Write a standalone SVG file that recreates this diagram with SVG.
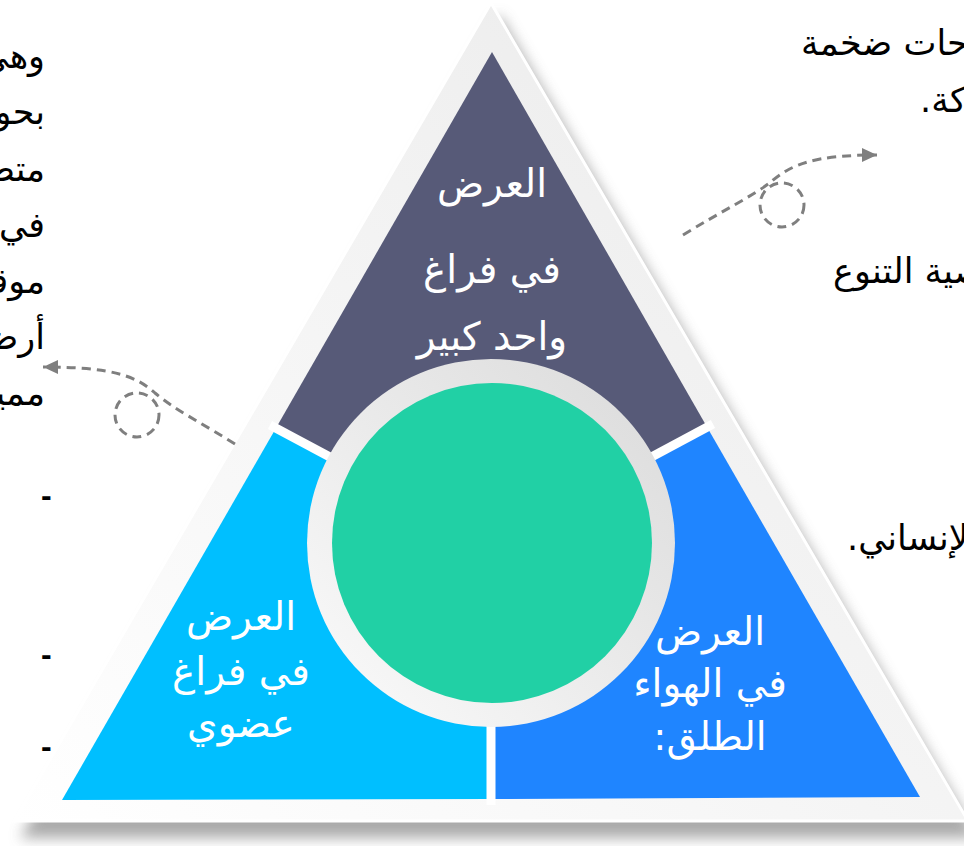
<svg xmlns="http://www.w3.org/2000/svg" width="964" height="846" viewBox="0 0 964 846">
<defs>
<style>
.ar{font-family:"DejaVu Sans","Liberation Sans",sans-serif;direction:rtl;unicode-bidi:embed}
.w{fill:#ffffff;font-size:39px;text-anchor:middle}
.b{fill:#000000;font-size:35px}
.hy{fill:#000000;font-size:32px;font-family:"Liberation Sans",sans-serif;font-weight:bold}
.dash{fill:none;stroke:#7f7f7f;stroke-width:3;stroke-dasharray:9 6}
.sep{stroke:#ffffff;stroke-width:9;fill:none}
</style>
<filter id="blur" x="-10%" y="-10%" width="120%" height="120%"><feGaussianBlur stdDeviation="7"/></filter>
<linearGradient id="frame" x1="0" y1="1" x2="1" y2="0">
<stop offset="0" stop-color="#ffffff"/><stop offset="1" stop-color="#e9e9e9"/>
</linearGradient>
<linearGradient id="ring" x1="0" y1="1" x2="1" y2="0">
<stop offset="0" stop-color="#fbfbfb"/><stop offset="1" stop-color="#dadada"/>
</linearGradient>
<marker id="arr" markerUnits="userSpaceOnUse" markerWidth="16" markerHeight="14" refX="15" refY="7" orient="auto">
<path d="M0,0 L15,7 L0,14 Z" fill="#7f7f7f"/>
</marker>
</defs>
<rect width="964" height="846" fill="#ffffff"/>
<g id="frame-shadow">
<polygon points="499,14 20,838 978,838" fill="#8f8f8f" opacity="0.75" filter="url(#blur)"/>
</g>
<g id="frame">
<polygon points="491,3 14,821 968,821" fill="url(#frame)" stroke="#ffffff" stroke-width="3"/>
</g>
<g id="node-top">
<polygon points="492,52 276,428 491,543 707,427" fill="#575a78"/>
<text class="ar w" x="492" y="197">العرض</text>
<text class="ar w" x="492" y="283">في فراغ</text>
<text class="ar w" x="492" y="350">واحد كبير</text>
</g>
<g id="node-left">
<polygon points="276,428 62,800 491,799 491,543" fill="#00bfff"/>
<text class="ar w" x="241" y="630">العرض</text>
<text class="ar w" x="241" y="685">في فراغ</text>
<text class="ar w" x="241" y="737">عضوي</text>
</g>
<g id="node-right">
<polygon points="707,427 920,797 491,799 491,543" fill="#1f85ff"/>
<text class="ar w" x="710" y="645">العرض</text>
<text class="ar w" x="710" y="697">في الهواء</text>
<text class="ar w" x="710" y="750">الطلق:</text>
</g>
<g id="separators">
<line class="sep" x1="491" y1="543" x2="270" y2="425"/>
<line class="sep" x1="491" y1="543" x2="713" y2="424"/>
<line class="sep" x1="491" y1="543" x2="491" y2="805"/>
</g>
<g id="node-center">
<circle cx="491" cy="543" r="184" fill="url(#ring)"/>
<circle cx="492" cy="543" r="160" fill="#21d0a5"/>
</g>
<g id="text-left">
<text class="ar b" x="45" y="68" text-anchor="start">وهي</text>
<text class="ar b" x="45" y="124" text-anchor="start">بحوث</text>
<text class="ar b" x="45" y="181" text-anchor="start">متطورة</text>
<text class="ar b" x="45" y="237" text-anchor="start">في مكان</text>
<text class="ar b" x="45" y="293" text-anchor="start">موقع</text>
<text class="ar b" x="45" y="349" text-anchor="start">أرض</text>
<text class="ar b" x="45" y="405" text-anchor="start">مميزة</text>
<text class="hy" x="41" y="506">-</text>
<text class="hy" x="41" y="665">-</text>
<text class="hy" x="41" y="757">-</text>
</g>
<g id="text-right">
<text class="ar b" x="801" y="55" text-anchor="end">مساحات ضخمة</text>
<text class="ar b" x="920" y="112" text-anchor="end">متحركة.</text>
<text class="ar b" x="833" y="283" text-anchor="end">خاصية التنوع</text>
<text class="ar b" x="847" y="550" text-anchor="end">الجانب الإنساني.</text>
</g>
<g id="connectors">
<path class="dash" d="M683,235 C720,212 755,195 772,181 C792,164 815,155 877,155" marker-end="url(#arr)"/>
<circle class="dash" cx="782" cy="205" r="22"/>
<path class="dash" d="M235,444 C205,425 175,410 155,393 C135,375 110,367 43,367" marker-end="url(#arr)"/>
<circle class="dash" cx="137" cy="415" r="22"/>
</g>
</svg>
